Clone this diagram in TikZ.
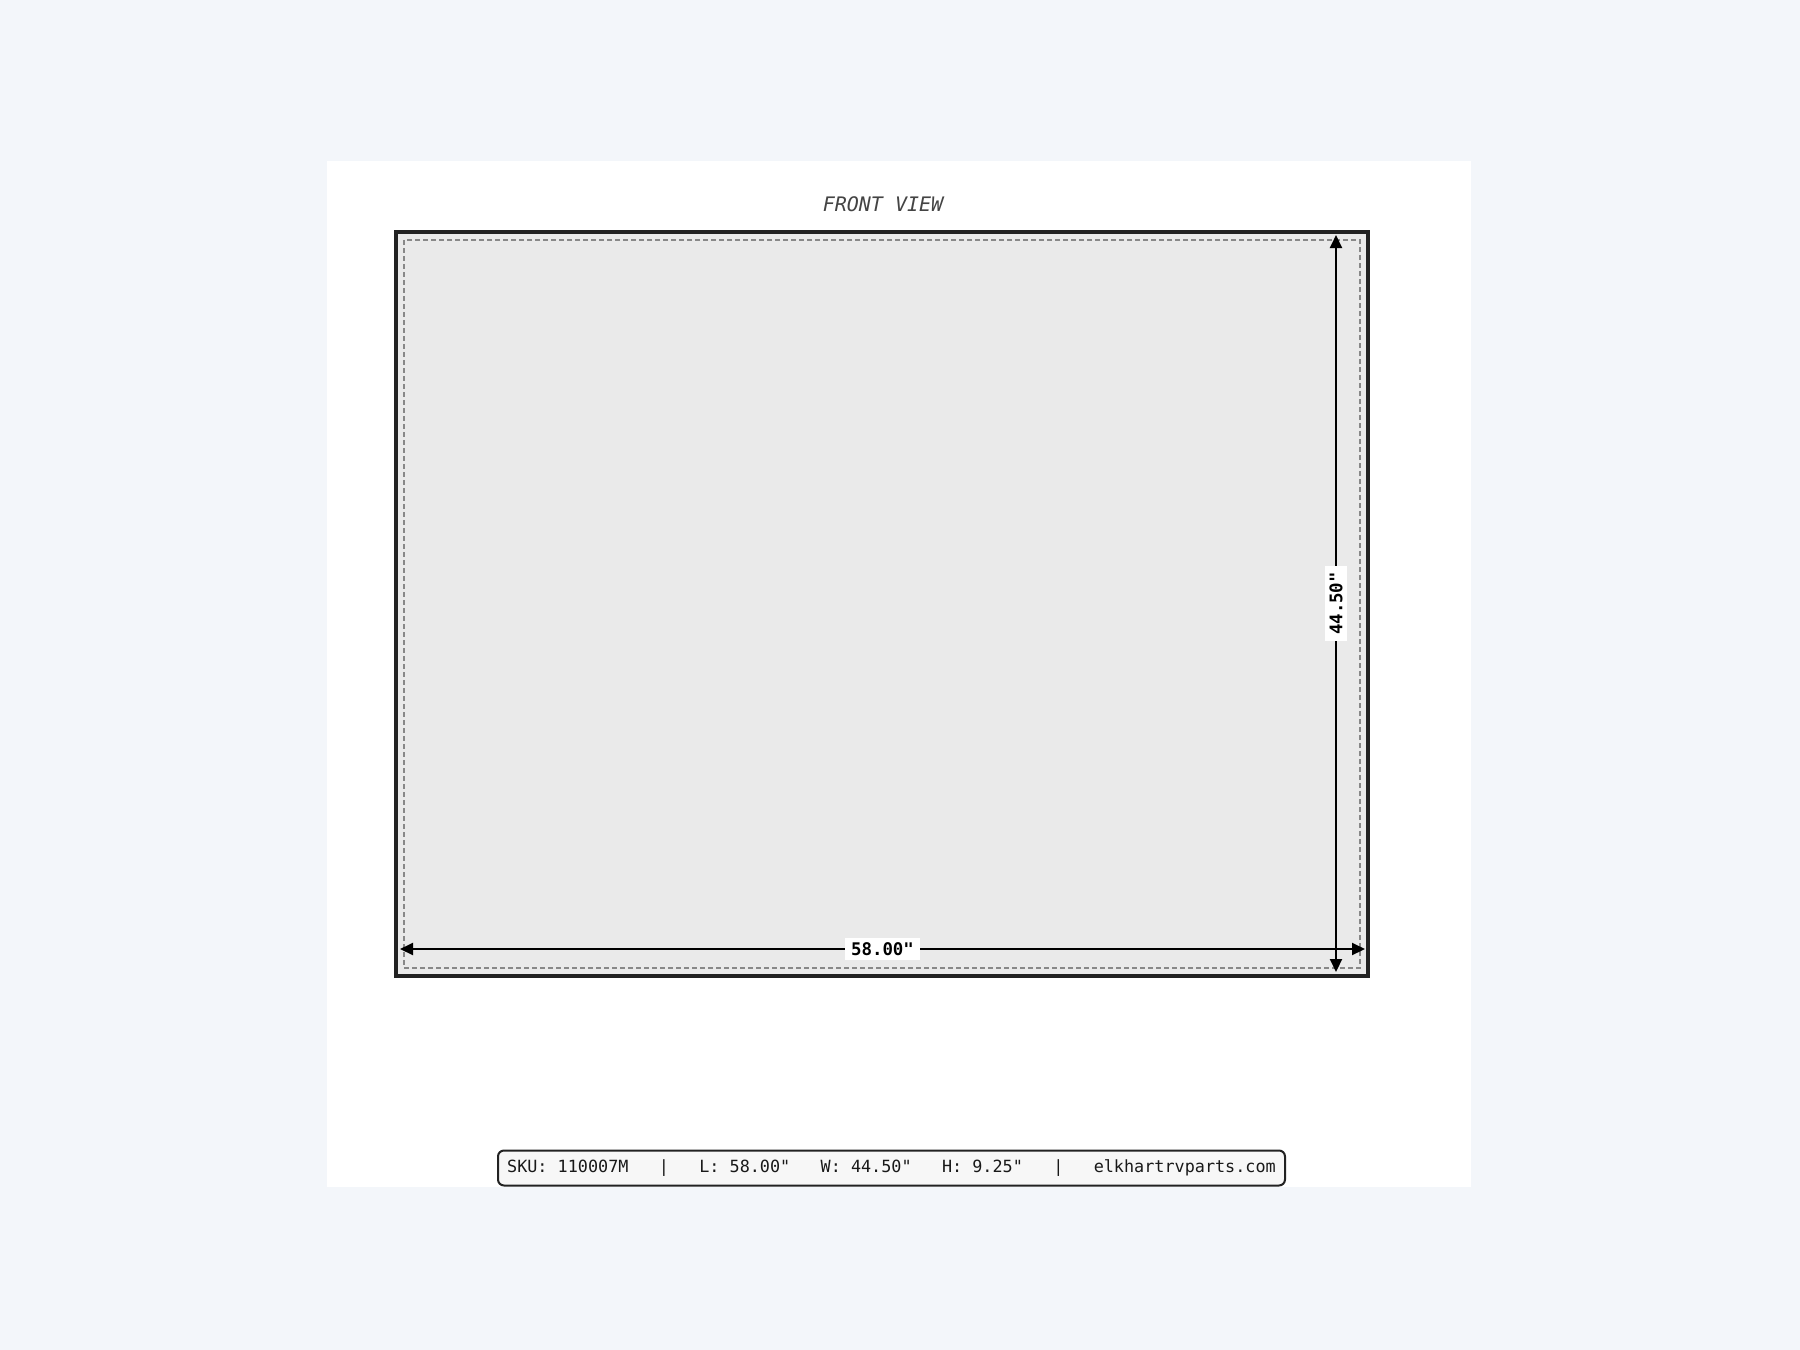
\documentclass[tikz,border=0pt]{standalone}
\usepackage{fontspec}
\setmonofont{DejaVu Sans Mono}
\usetikzlibrary{arrows.meta}
\definecolor{pagebg}{HTML}{F3F6FA}
\definecolor{panelfill}{HTML}{EAEAEA}
\definecolor{framecol}{HTML}{222222}
\definecolor{dashcol}{HTML}{888888}
\definecolor{titlecol}{HTML}{444444}
\definecolor{infofill}{HTML}{F7F7F7}
\newcommand{\sepgap}{\ \ \ }

\begin{document}
\begin{tikzpicture}[x=0.5pt,y=-0.5pt,
    dimline/.style={line width=1pt, {Triangle[length=6.5pt,width=6pt]}-{Triangle[length=6.5pt,width=6pt]}},
    dimlabel/.style={fill=white, inner xsep=3pt, inner ysep=2pt, font=\ttfamily\bfseries\fontsize{8.7}{10}\selectfont},
    titletext/.style={text=titlecol, font=\ttfamily\itshape\fontsize{10}{12}\selectfont},
    infobox/.style={draw=framecol, line width=1pt, fill=infofill, rounded corners=3pt,
        minimum width=393.5pt, minimum height=17.5pt, inner sep=0pt, text=black!90,
        font=\ttfamily\fontsize{8.4}{10}\selectfont}]
        % Draw page and white panel
        \fill[pagebg] (0,0) rectangle (1800,1350);
        \fill[white] (327,161) rectangle (1471,1187);
        \useasboundingbox (0,0) rectangle (1800,1350);

        % Title
        \node[titletext] (title) at (883,204) {FRONT VIEW};

        % Draw the front face
        \draw[framecol, fill=panelfill, line width=1.6pt] (396,232) rectangle (1368,976);
        \draw[dashcol, line width=0.6pt, dash pattern=on 2.5pt off 1.5pt] (404,240) rectangle (1360,968);

        % Dimension ends
        \coordinate (wleft) at (400,949);
        \coordinate (wright) at (1365,949);
        \coordinate (htop) at (1336,235);
        \coordinate (hbottom) at (1336,972);

        % Draw dimension lines
        \draw[dimline] (wleft) -- node[dimlabel] (wlabel) {58.00"} (wright);
        \draw[dimline] (htop) -- node[dimlabel, rotate=90] (hlabel) {44.50"} (hbottom);

        % Info bar
        \node[infobox] (info) at (891.5,1168)
            {SKU: 110007M\sepgap|\sepgap L: 58.00"\sepgap W: 44.50"\sepgap H: 9.25"\sepgap|\sepgap elkhartrvparts.com};
    \end{tikzpicture}
\end{document}
